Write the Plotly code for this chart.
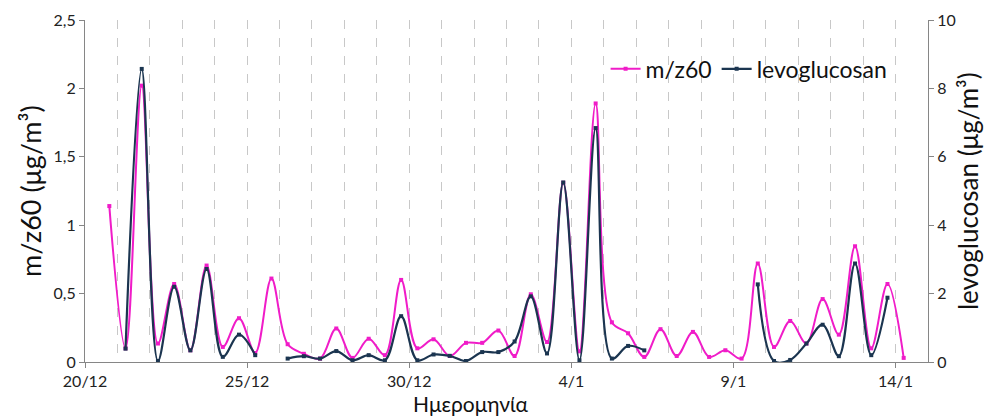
import plotly.graph_objects as go

times = [
    "2012-12-20 18:00", "2012-12-21 06:00", "2012-12-21 18:00", "2012-12-22 06:00",
    "2012-12-22 18:00", "2012-12-23 06:00", "2012-12-23 18:00", "2012-12-24 06:00",
    "2012-12-24 18:00", "2012-12-25 06:00", "2012-12-25 18:00", "2012-12-26 06:00",
    "2012-12-26 18:00", "2012-12-27 06:00", "2012-12-27 18:00", "2012-12-28 06:00",
    "2012-12-28 18:00", "2012-12-29 06:00", "2012-12-29 18:00", "2012-12-30 06:00",
    "2012-12-30 18:00", "2012-12-31 06:00", "2012-12-31 18:00", "2013-01-01 06:00",
    "2013-01-01 18:00", "2013-01-02 06:00", "2013-01-02 18:00", "2013-01-03 06:00",
    "2013-01-03 18:00", "2013-01-04 06:00", "2013-01-04 18:00", "2013-01-05 06:00",
    "2013-01-05 18:00", "2013-01-06 06:00", "2013-01-06 18:00", "2013-01-07 06:00",
    "2013-01-07 18:00", "2013-01-08 06:00", "2013-01-08 18:00", "2013-01-09 06:00",
    "2013-01-09 18:00", "2013-01-10 06:00", "2013-01-10 18:00", "2013-01-11 06:00",
    "2013-01-11 18:00", "2013-01-12 06:00", "2013-01-12 18:00", "2013-01-13 06:00",
    "2013-01-13 18:00", "2013-01-14 06:00",
]

mz60 = [1.14, 0.10, 2.02, 0.135, 0.57, 0.086, 0.705, 0.11, 0.32, 0.066,
        0.61, 0.13, 0.06, 0.025, 0.245, 0.03, 0.17, 0.05, 0.60, 0.10,
        0.166, 0.044, 0.14, 0.14, 0.23, 0.044, 0.495, 0.146, 1.31, 0.078,
        1.89, 0.29, 0.21, 0.037, 0.24, 0.044, 0.22, 0.037, 0.086, 0.025,
        0.72, 0.11, 0.30, 0.135, 0.46, 0.20, 0.846, 0.10, 0.57, 0.03]

levoglucosan = [None, 0.39, 8.57, 0.03, 2.2, 0.34, 2.72, 0.15, 0.80, 0.2,
                None, 0.10, 0.17, 0.10, 0.32, 0.05, 0.2, 0.05, 1.34, 0.05,
                0.22, 0.18, 0.03, 0.29, 0.29, 0.6, 1.92, 0.25, 5.25, 0.05,
                6.84, 0.10, 0.47, 0.34, None, None, None, None, None, None,
                2.27, 0.03, 0.06, 0.54, 1.09, 0.17, 2.88, 0.2, 1.88, None]

x_ticks = ["2012-12-20", "2012-12-25", "2012-12-30", "2013-01-04", "2013-01-09", "2013-01-14"]
x_tick_labels = ["20/12", "25/12", "30/12", "4/1", "9/1", "14/1"]

FONT = "Lato, 'Open Sans', sans-serif"
MAG = "#F01CC8"
NAVY = "#1B3550"

fig = go.Figure()
fig.add_trace(go.Scatter(
    x=times, y=mz60, name="m/z60", mode="lines+markers",
    line=dict(color=MAG, width=2, shape="spline", smoothing=1.0),
    marker=dict(symbol="square", size=4, color=MAG),
))
fig.add_trace(go.Scatter(
    x=times, y=levoglucosan, name="levoglucosan", mode="lines+markers", yaxis="y2",
    line=dict(color=NAVY, width=2.2, shape="spline", smoothing=1.0),
    marker=dict(symbol="square", size=4, color=NAVY),
    connectgaps=False,
))

fig.update_layout(
    width=996, height=419,
    margin=dict(l=85, r=68, t=20, b=57, autoexpand=False),
    paper_bgcolor="white", plot_bgcolor="white",
    separators=",.",
    font=dict(family=FONT, size=15, color="#222"),
    showlegend=True,
    legend=dict(orientation="h", x=0.958, xanchor="right", y=0.857, yanchor="middle",
                font=dict(size=23, color="#111"), bgcolor="rgba(0,0,0,0)",
                itemwidth=30, tracegroupgap=0),
    xaxis=dict(
        type="date", range=["2012-12-20", "2013-01-15"], automargin=False,
        tickmode="array", tickvals=x_ticks, ticktext=x_tick_labels,
        ticks="outside", ticklen=5, tickcolor="#868686",
        showline=True, linecolor="#868686", linewidth=1,
        showgrid=True, gridcolor="#c8c8c8", griddash="dash", gridwidth=1,
        minor=dict(dtick=86400000, showgrid=True, gridcolor="#c8c8c8", griddash="dash", gridwidth=1, ticks=""),
        tickfont=dict(size=16, color="#222"),
        zeroline=False,
    ),
    yaxis=dict(
        range=[0, 2.5], dtick=0.5, tickformat="~r", automargin=False,
        ticks="outside", ticklen=5, tickcolor="#868686",
        showline=True, linecolor="#868686", linewidth=1,
        showgrid=False, zeroline=False,
        tickfont=dict(size=16, color="#222"),
    ),
    yaxis2=dict(
        range=[0, 10], dtick=2, overlaying="y", side="right", automargin=False,
        ticks="outside", ticklen=5, tickcolor="#868686",
        showline=True, linecolor="#868686", linewidth=1,
        showgrid=False, zeroline=False,
        tickfont=dict(size=16, color="#222"),
    ),
    annotations=[
        dict(text="m/z60 (μg/m³)", xref="paper", yref="paper", x=-0.0652, y=0.5,
             textangle=-90, showarrow=False, xanchor="center", yanchor="middle",
             font=dict(size=27, color="#111")),
        dict(text="levoglucosan (μg/m³)", xref="paper", yref="paper", x=1.0475, y=0.5,
             textangle=-90, showarrow=False, xanchor="center", yanchor="middle",
             font=dict(size=26, color="#111")),
        dict(text="Ημερομηνία", xref="paper", yref="paper", x=0.458, y=-0.122,
             showarrow=False, xanchor="center", yanchor="middle",
             font=dict(size=21, color="#111")),
    ],
)

fig.write_html("out.html", config={"displayModeBar": False},
               post_script="document.body.style.margin='0px';document.body.style.overflow='hidden';")
